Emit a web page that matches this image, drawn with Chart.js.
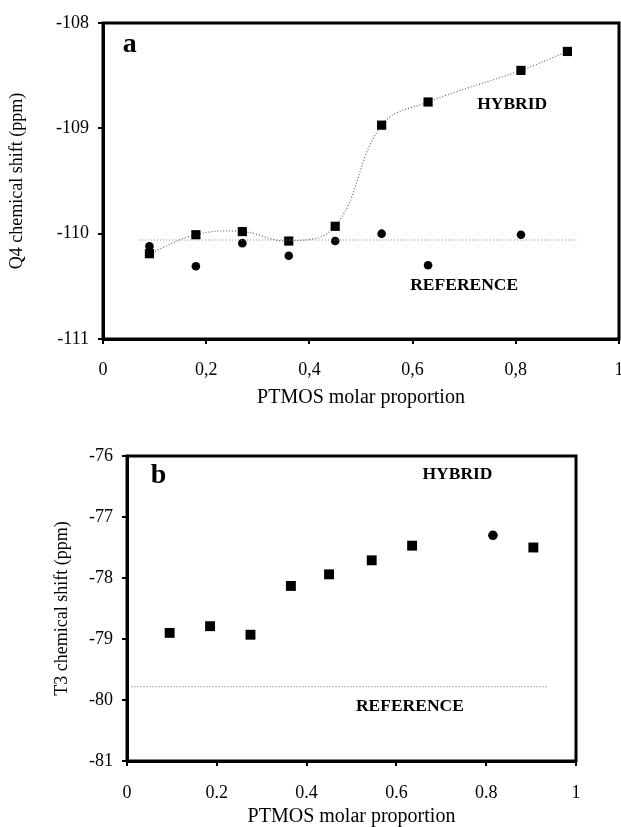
<!DOCTYPE html>
<html>
<head>
<meta charset="utf-8">
<script src="https://cdn.jsdelivr.net/npm/chart.js@4/dist/chart.umd.min.js"></script>
<style>
  html, body { margin: 0; padding: 0; background: #fff; width: 621px; height: 827px; overflow: hidden; }
  .box { position: absolute; left: 0; overflow: hidden; width: 621px; }
  #boxA { top: 0; height: 412px; }
  #boxB { top: 420px; height: 407px; }
</style>
</head>
<body>
<div class="box" id="boxA"><canvas id="grafA" width="630" height="412" style="width:630px;height:412px"></canvas></div>
<div class="box" id="boxB"><canvas id="grafB" width="630" height="407" style="width:630px;height:407px"></canvas></div>
<script>
// ---- panel a : Q4 ----
const xA = [0.09, 0.18, 0.27, 0.36, 0.45, 0.54, 0.63, 0.81, 0.90];
const hibridoA = [-110.19, -110.01, -109.98, -110.07, -109.93, -108.97, -108.75, -108.45, -108.27];
const xRefA = [0.09, 0.18, 0.27, 0.36, 0.45, 0.54, 0.63, 0.81];
const referenciaA = [-110.12, -110.31, -110.09, -110.21, -110.07, -110.0, -110.30, -110.01];
const lineaRefAX = [0.07, 0.92];
const lineaRefAY = [-110.06, -110.06];
const ticksXA = ['0', '0,2', '0,4', '0,6', '0,8', '1'];

// ---- panel b : T3 ----
const xB = [0.095, 0.185, 0.275, 0.365, 0.45, 0.545, 0.635, 0.815, 0.905];
const hibridoB = [-78.9, -78.79, -78.93, -78.13, -77.94, -77.71, -77.47, -77.3, -77.5];
const lineaRefBX = [0.01, 0.935];
const lineaRefBY = [-79.78, -79.78];
const ticksXB = ['0', '0.2', '0.4', '0.6', '0.8', '1'];

const serif = "'Liberation Serif', 'DejaVu Serif', serif";

const puntos = (xs, ys) => xs.map((x, i) => ({ x: x, y: ys[i] }));

// marco negro alrededor del area + textos
const marco = {
    id: 'marco',
    afterDatasetsDraw(chart) {
        const { ctx, chartArea: a } = chart;
        ctx.save();
        ctx.strokeStyle = '#000';
        ctx.lineWidth = 3;
        ctx.strokeRect(a.left, a.top, a.right - a.left, a.bottom - a.top);
        ctx.restore();
    },
    afterDraw(chart, args, opts) {
        const { ctx, scales } = chart;
        ctx.save();
        ctx.fillStyle = '#000';
        ctx.textAlign = 'center';
        ctx.textBaseline = 'middle';
        (opts.textos || []).forEach(t => {
            ctx.font = t.font;
            ctx.fillText(t.txt, scales.x.getPixelForValue(t.x), scales.y.getPixelForValue(t.y));
        });
        ctx.restore();
    }
};

function escalas(cfg) {
    return {
        x: {
            type: 'linear', min: 0, max: 1,
            afterFit: s => { s.height = cfg.altoX; s.paddingRight = 0; s.paddingLeft = 0; },
            afterBuildTicks: s => { s.ticks = [0, 0.2, 0.4, 0.6, 0.8, 1].map(v => ({ value: v })); },
            ticks: {
                color: '#000', padding: cfg.padX, maxRotation: 0,
                font: { family: serif, size: 18 },
                callback: (v, i) => cfg.ticksX[i]
            },
            grid: { display: true, drawOnChartArea: false, drawTicks: true, tickLength: 5, color: '#000', lineWidth: 2 },
            border: { display: true, color: '#000', width: 3 },
            title: { display: true, text: 'PTMOS molar proportion', color: '#000', font: { family: serif, size: 20, lineHeight: cfg.altoTitulo }, padding: { top: 0, bottom: 0 } }
        },
        y: {
            type: 'linear', min: cfg.minY, max: cfg.maxY,
            afterFit: s => { s.width = cfg.anchoY; },
            ticks: { stepSize: 1, color: '#000', padding: 9, font: { family: serif, size: 18 } },
            grid: { display: true, drawOnChartArea: false, drawTicks: true, tickLength: 5, color: '#000', lineWidth: 2 },
            border: { display: true, color: '#000', width: 3 },
            title: { display: true, text: cfg.tituloY, color: '#000', font: { family: serif, size: 18 }, padding: { top: 0, bottom: 0 } }
        }
    };
}

new Chart(document.getElementById('grafA'), {
    type: 'scatter',
    data: {
        datasets: [
            {
                label: 'Reference line',
                data: puntos(lineaRefAX, lineaRefAY),
                showLine: true, pointRadius: 0,
                borderColor: '#888', borderWidth: 1.2, borderDash: [1, 2]
            },
            {
                label: 'HYBRID',
                data: puntos(xA, hibridoA),
                showLine: true, tension: 0.4,
                borderColor: '#666', borderWidth: 1.2, borderDash: [1, 2],
                pointStyle: 'rect', pointRadius: 6.5,
                pointBackgroundColor: '#000', pointBorderColor: '#000', pointBorderWidth: 0
            },
            {
                label: 'REFERENCE',
                data: puntos(xRefA, referenciaA),
                pointStyle: 'circle', pointRadius: 4.3,
                pointBackgroundColor: '#000', pointBorderColor: '#000', pointBorderWidth: 0
            }
        ]
    },
    options: {
        responsive: false, animation: false,
        layout: { padding: { top: 23, right: 11, left: 6, bottom: 2 } },
        scales: escalas({ altoX: 71, padX: 15, altoTitulo: 1.2, anchoY: 97, minY: -111, maxY: -108, ticksX: ticksXA, tituloY: 'Q4 chemical shift (ppm)' }),
        plugins: {
            legend: { display: false }, tooltip: { enabled: false },
            marco: {
                textos: [
                    { txt: 'a', x: 0.052, y: -108.21, font: 'bold 28px ' + serif },
                    { txt: 'HYBRID', x: 0.793, y: -108.77, font: 'bold 17.5px ' + serif },
                    { txt: 'REFERENCE', x: 0.70, y: -110.49, font: 'bold 17.5px ' + serif }
                ]
            }
        }
    },
    plugins: [marco]
});

new Chart(document.getElementById('grafB'), {
    type: 'scatter',
    data: {
        datasets: [
            {
                label: 'Reference line',
                data: puntos(lineaRefBX, lineaRefBY),
                showLine: true, pointRadius: 0,
                borderColor: '#888', borderWidth: 1.2, borderDash: [1, 2]
            },
            {
                label: 'HYBRID',
                data: puntos(xB, hibridoB),
                pointStyle: ctx => ctx.dataIndex === 7 ? 'circle' : 'rect',
                pointRadius: ctx => ctx.dataIndex === 7 ? 4.8 : 7,
                pointBackgroundColor: '#000', pointBorderColor: '#000', pointBorderWidth: 0
            }
        ]
    },
    options: {
        responsive: false, animation: false,
        layout: { padding: { top: 36, right: 54, left: 51, bottom: 0 } },
        scales: escalas({ altoX: 66, padX: 16, altoTitulo: 1.0, anchoY: 76, minY: -81, maxY: -76, ticksX: ticksXB, tituloY: 'T3 chemical shift (ppm)' }),
        plugins: {
            legend: { display: false }, tooltip: { enabled: false },
            marco: {
                textos: [
                    { txt: 'b', x: 0.07, y: -76.32, font: 'bold 28px ' + serif },
                    { txt: 'HYBRID', x: 0.736, y: -76.31, font: 'bold 17.5px ' + serif },
                    { txt: 'REFERENCE', x: 0.63, y: -80.11, font: 'bold 17.5px ' + serif }
                ]
            }
        }
    },
    plugins: [marco]
});
</script>
</body>
</html>
